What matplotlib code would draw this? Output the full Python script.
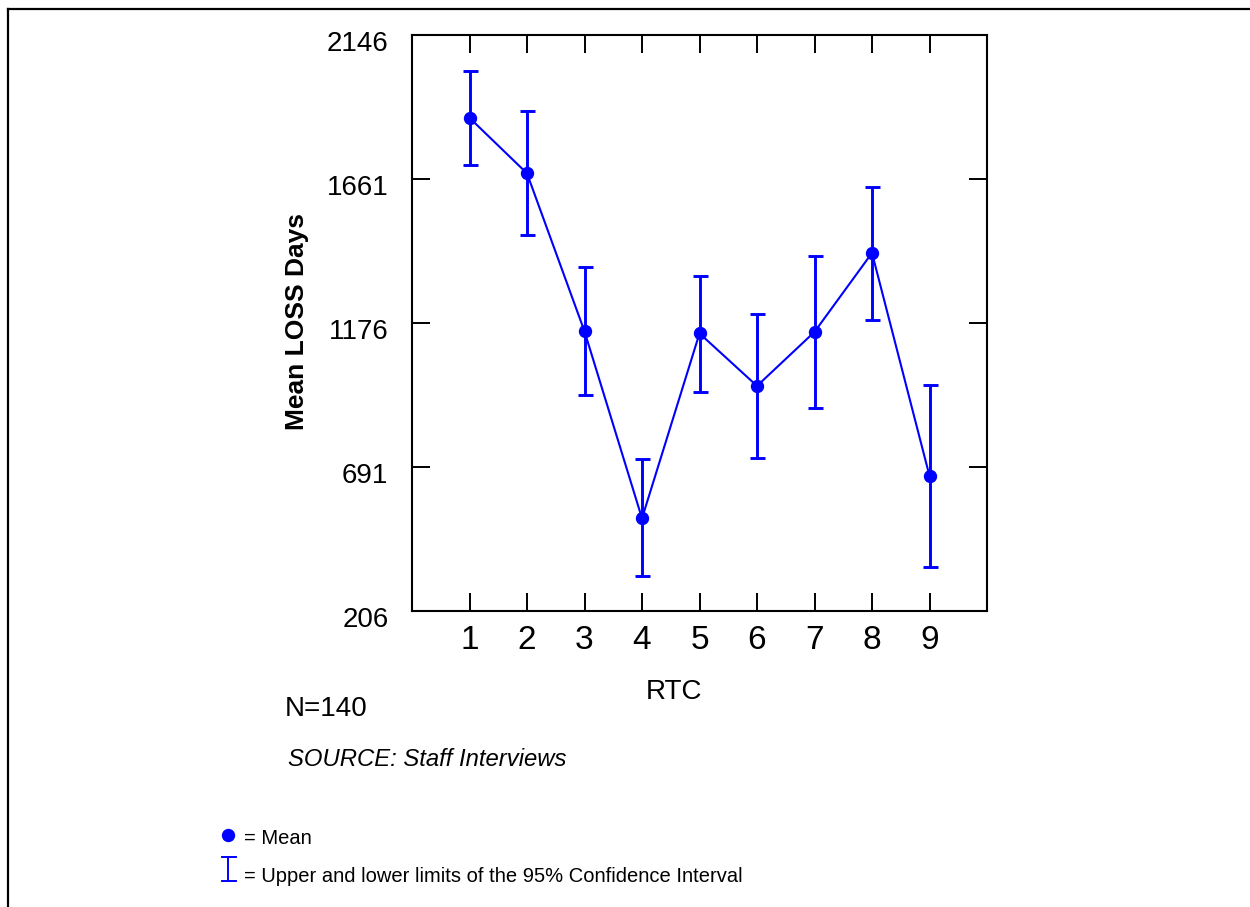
import numpy as np
import matplotlib.pyplot as plt
import matplotlib.transforms as mtransforms

plt.rcParams['font.family'] = ['Liberation Sans', 'DejaVu Sans']

# RTC categories and mean LOSS days with 95% CI limits
rtc = [1, 2, 3, 4, 5, 6, 7, 8, 9]
mean_days = [1868, 1681, 1149, 519, 1142, 965, 1147, 1413, 662]
upper_ci = [2026, 1892, 1367, 718, 1336, 1207, 1402, 1636, 967]
lower_ci = [1708, 1473, 934, 326, 945, 721, 891, 1187, 356]
y_ticks = [206, 691, 1176, 1661, 2146]

bleu = '#0000FF'
W, H = 1250, 907

fig = plt.figure(figsize=(W / 100, H / 100), dpi=100)

# overlay in pixel coordinates for the frame, notes and the key
over = fig.add_axes([0, 0, 1, 1])
over.set_xlim(0, W)
over.set_ylim(H, 0)
over.axis('off')
over.plot([8, W], [9, 9], color='black', lw=1.6)
over.plot([8, 8], [9, H], color='black', lw=1.6)

ax = fig.add_axes([412 / W, 1 - 611.3 / H, 575 / W, 576 / H])

m = np.array(mean_days)
err = [m - np.array(lower_ci), np.array(upper_ci) - m]
ax.errorbar(rtc, mean_days, yerr=err, color=bleu, lw=1.5, elinewidth=2.1,
            capsize=5.4, capthick=2.1, marker='o', markersize=8.6)

ax.set_xlim(0, 10)
ax.set_ylim(206, 2146)
ax.set_xticks(rtc)
ax.set_yticks(y_ticks)
ax.tick_params(axis='x', direction='in', length=13, width=1.4, labelsize=24,
               pad=10, top=True)
ax.tick_params(axis='y', direction='in', length=13, width=1.4, labelsize=20,
               pad=17, right=True)
for s in ax.spines.values():
    s.set_linewidth(1.5)

# y labels sit a little below their ticks in the original
decal = mtransforms.ScaledTranslation(0, -6 / 100, fig.dpi_scale_trans)
for lab in ax.get_yticklabels():
    lab.set_transform(lab.get_transform() + decal)

# axis titles
over.text(297, 322, 'Mean LOSS Days', fontsize=19, fontweight='bold',
          rotation=90, ha='center', va='center')
over.text(674, 692, 'RTC', fontsize=20, ha='center', va='center')

# notes below the chart
over.text(285, 716, 'N=140', fontsize=20, ha='left', va='baseline')
over.text(288, 766, 'SOURCE: Staff Interviews', fontsize=17.2,
          style='italic', ha='left', va='baseline')

# key
over.plot([228], [835], 'o', color=bleu, markersize=8.6)
over.plot([228, 228], [857, 881], color=bleu, lw=1.4)
over.plot([222, 236], [857, 857], color=bleu, lw=1.4)
over.plot([222, 236], [881, 881], color=bleu, lw=1.4)
over.text(244, 838, '= Mean', fontsize=14.5, ha='left', va='center')
over.text(244, 876, '= Upper and lower limits of the 95% Confidence Interval',
          fontsize=14.5, ha='left', va='center')

plt.savefig('out.png', dpi=100)
